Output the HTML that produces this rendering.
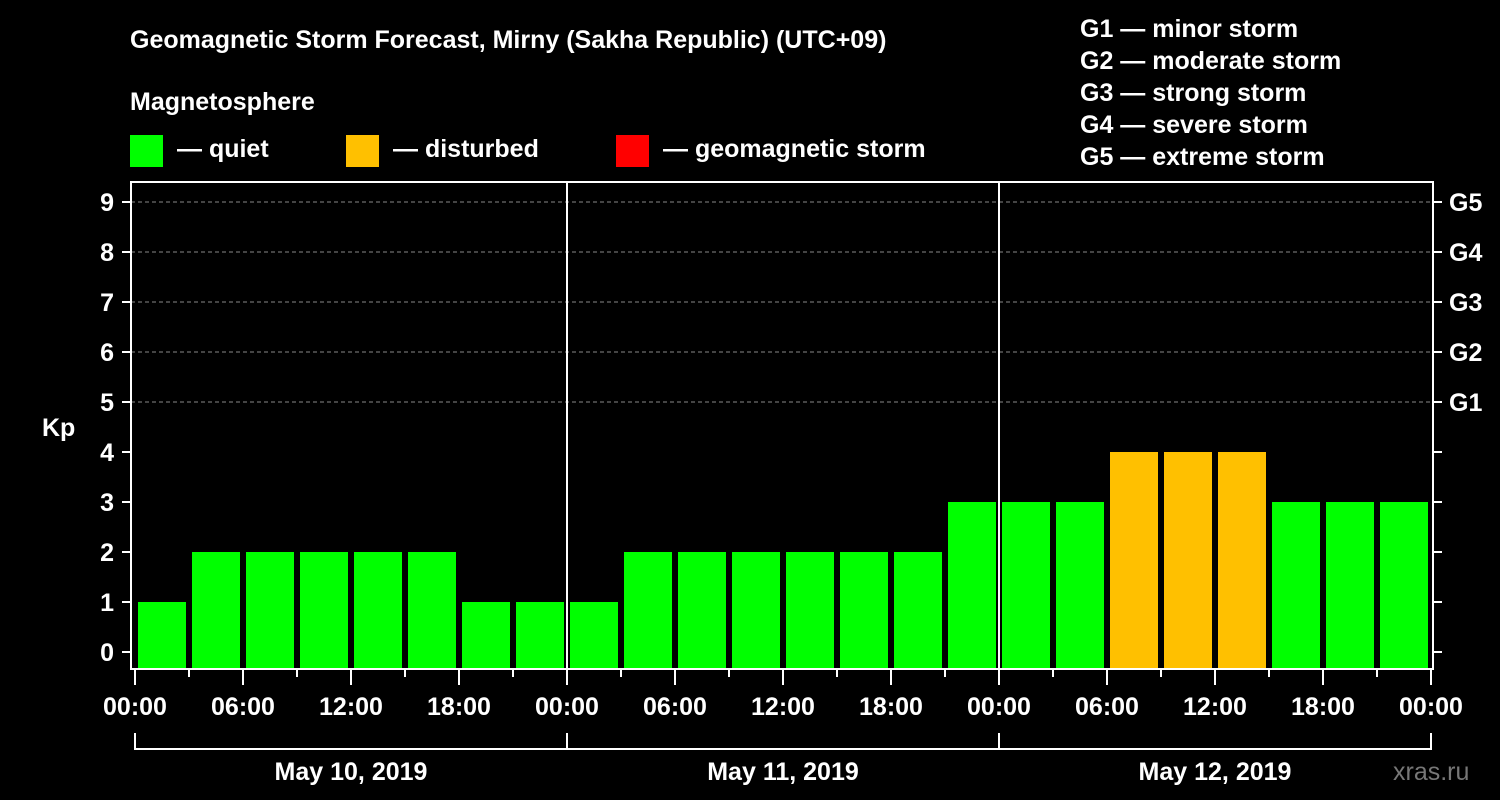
<!DOCTYPE html>
<html><head><meta charset="utf-8"><style>
html,body{margin:0;padding:0;background:#000;}
svg{display:block;font-family:"Liberation Sans",Arial,sans-serif;font-weight:bold;}
</style></head><body>
<svg id="c" width="1500" height="800" viewBox="0 0 1500 800">
<text x="130" y="48" fill="#fff" font-size="25">Geomagnetic Storm Forecast, Mirny (Sakha Republic) (UTC+09)</text>
<text x="130" y="110" fill="#fff" font-size="25">Magnetosphere</text>
<g><rect x="130" y="135" width="33" height="32" fill="#00ff00"/><text x="177" y="157" fill="#fff" font-size="25">— quiet</text></g>
<g><rect x="346" y="135" width="33" height="32" fill="#ffc000"/><text x="393" y="157" fill="#fff" font-size="25">— disturbed</text></g>
<g><rect x="616" y="135" width="33" height="32" fill="#ff0000"/><text x="663" y="157" fill="#fff" font-size="25">— geomagnetic storm</text></g>
<g fill="#fff" font-size="25">
<text x="1080" y="37">G1 — minor storm</text><text x="1080" y="69">G2 — moderate storm</text><text x="1080" y="101">G3 — strong storm</text><text x="1080" y="133">G4 — severe storm</text><text x="1080" y="165">G5 — extreme storm</text></g>
<text x="42" y="436" fill="#fff" font-size="25">Kp</text>
<text x="1393" y="780" fill="#777" font-size="25" font-weight="normal">xras.ru</text>
<g id="grid"></g><g id="bars"></g><g id="axes"></g>
</svg>
<script>
const kpValues=[1,2,2,2,2,2,1,1, 1,2,2,2,2,2,2,3, 3,3,4,4,4,3,3,3];
const dayLabels=["May 10, 2019","May 11, 2019","May 12, 2019"];
const hourLabels=["00:00","06:00","12:00","18:00"];
const gLabels=["G1","G2","G3","G4","G5"];
const NS="http://www.w3.org/2000/svg";
const X0=135,PXH=18,Y0=652,PXK=50,BOT=668;
const xh=h=>X0+h*PXH, yk=v=>Y0-v*PXK;
function mk(tag,a,parent,txt){const e=document.createElementNS(NS,tag);for(const k in a)e.setAttribute(k,a[k]);if(txt!=null)e.textContent=txt;parent.appendChild(e);return e;}
const grid=document.getElementById('grid'),bars=document.getElementById('bars'),axes=document.getElementById('axes');
for(let v=5;v<=9;v++){const l=mk('line',{x1:131,x2:1433,y1:yk(v),y2:yk(v),stroke:'#888','stroke-dasharray':'4,3','stroke-width':1},grid);

}
kpValues.forEach((v,i)=>{const c=v>=5?'#ff0000':(v>=4?'#ffc000':'#00ff00');
const r=mk('rect',{x:xh(i*3)+3,y:yk(v),width:48,height:BOT-yk(v),fill:c},bars);

});
// day separators
for(let d=1;d<3;d++){const l=mk('line',{x1:xh(d*24),x2:xh(d*24),y1:182,y2:669,stroke:'#fff','stroke-width':2},axes);

}
const frame=mk('path',{d:'M131 182 H1433 V669 H131 Z',fill:'none',stroke:'#fff','stroke-width':2},axes);


for(let v=0;v<=9;v++){mk('line',{x1:122,x2:131,y1:yk(v),y2:yk(v),stroke:'#fff','stroke-width':2},axes);
mk('line',{x1:1433,x2:1442,y1:yk(v),y2:yk(v),stroke:'#fff','stroke-width':2},axes);
const t=mk('text',{x:114,y:yk(v)+9,fill:'#fff','font-size':25,'text-anchor':'end'},axes,String(v));

}
gLabels.forEach((g,i)=>{const t=mk('text',{x:1449,y:yk(i+5)+9,fill:'#fff','font-size':25},axes,g);

});
for(let h=0;h<=72;h+=3){const long=h%6===0;mk('line',{x1:xh(h),x2:xh(h),y1:669,y2:long?685:677,stroke:'#fff','stroke-width':2},axes);
if(long){const t=mk('text',{x:xh(h),y:715,fill:'#fff','font-size':25,'text-anchor':'middle'},axes,hourLabels[(h/6)%4]);

}}
const br=mk('path',{d:`M${xh(0)} 733 V749 H${xh(72)} V733 M${xh(24)} 733 V749 M${xh(48)} 733 V749`,fill:'none',stroke:'#fff','stroke-width':2},axes);


dayLabels.forEach((d,i)=>{const t=mk('text',{x:xh(i*24+12),y:780,fill:'#fff','font-size':25,'text-anchor':'middle'},axes,d);

});
</script>
</body></html>
